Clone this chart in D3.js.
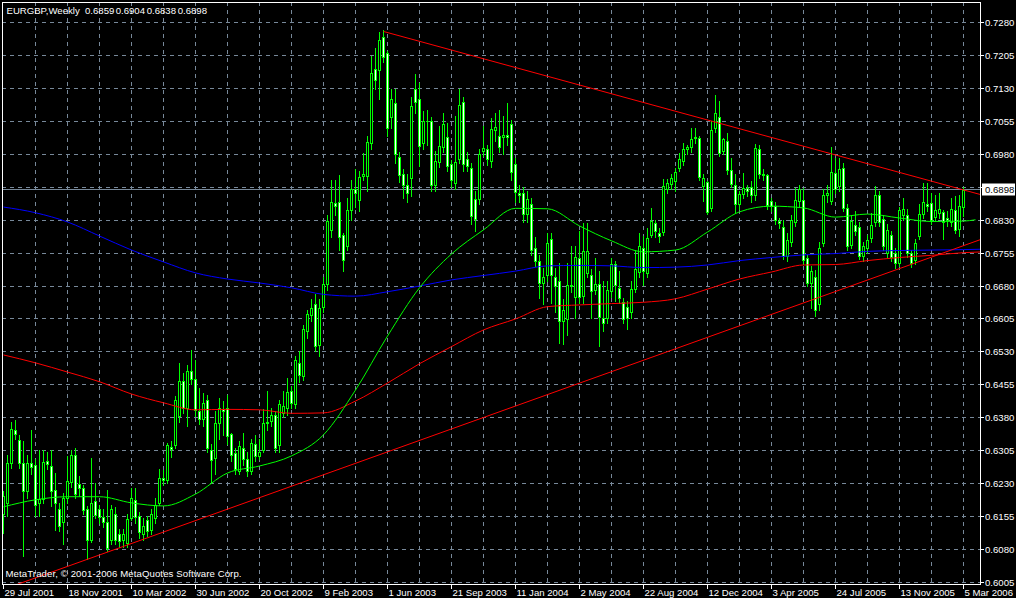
<!DOCTYPE html>
<html><head><meta charset="utf-8">
<script src="https://cdn.jsdelivr.net/npm/d3@7"></script>
<style>html,body{margin:0;padding:0;background:#000;}svg{display:block;}</style>
</head><body>
<svg id="chart" width="1016" height="598"></svg>
<script>
// ---------------- data ----------------
const symbolTitle = "EURGBP,Weekly";
const lastQuote = [0.6859, 0.6904, 0.6838, 0.6898]; // O H L C of last bar
const currentPrice = 0.6898;
const watermark = "MetaTrader, \u00A9 2001-2006 MetaQuotes Software Corp.";

const open = [
.6160,.6185,.6276,.6352,.6329,.6275,.6212,.6275,.6270,.6185,.6193,.6281,.6268,.6214,.6170,.6142,.6195,.6232,.6293,.6227,
.6218,.6170,.6100,.6188,.6170,.6152,.6141,.6100,.6160,.6113,.6100,.6094,.6150,.6191,.6155,.6113,.6145,.6122,.6150,.6185,
.6242,.6238,.6313,.6316,.6382,.6462,.6401,.6485,.6467,.6394,.6375,.6420,.6306,.6287,.6366,.6398,.6401,.6341,.6299,.6257,
.6310,.6284,.6257,.6320,.6292,.6306,.6370,.6371,.6386,.6316,.6390,.6401,.6439,.6409,.6504,.6473,.6576,.6614,.6637,.6545,
.6631,.6684,.6807,.6868,.6870,.6796,.6770,.6853,.6900,.6876,.6929,.6929,.7004,.7174,.7171,.7247,.7210,.7064,.7096,.6972,
.6933,.6910,.6925,.7127,.7105,.7004,.7056,.7054,.6910,.6961,.6996,.7019,.6956,.6914,.6969,.7098,.6969,.6948,.6877,.6877,
.6986,.6990,.6963,.7034,.7020,.7019,.7022,.7048,.6956,.6891,.6890,.6842,.6865,.6766,.6736,.6686,.6705,.6786,.6700,.6690,
.6600,.6603,.6682,.6653,.6743,.6656,.6709,.6705,.6669,.6684,.6606,.6606,.6667,.6728,.6675,.6643,.6631,.6620,.6673,.6711,
.6766,.6709,.6795,.6823,.6800,.6802,.6899,.6912,.6918,.6948,.6963,.6990,.6995,.7016,.7016,.6906,.6916,.6857,.7039,.7064,
.6986,.7009,.6944,.6909,.6865,.6889,.6903,.6904,.6886,.6992,.6934,.6931,.6872,.6861,.6828,.6813,.6747,.6779,.6824,.6872,
.6876,.6743,.6686,.6700,.6637,.6777,.6887,.6872,.6937,.6906,.6948,.6857,.6773,.6819,.6814,.6747,.6766,.6789,.6824,.6887,
.6832,.6755,.6796,.6755,.6732,.6840,.6840,.6755,.6739,.6794,.6842,.6865,.6868,.6837,.6846,.6847,.6834,.6824,.6851,.6808,
.6859];
const high = [
.6212,.6295,.6369,.6373,.6340,.6325,.6295,.6351,.6285,.6306,.6306,.6300,.6306,.6253,.6185,.6208,.6291,.6305,.6310,.6245,
.6225,.6178,.6287,.6230,.6180,.6170,.6215,.6180,.6175,.6125,.6125,.6160,.6219,.6219,.6165,.6150,.6155,.6170,.6195,.6262,
.6260,.6322,.6325,.6428,.6504,.6480,.6500,.6534,.6511,.6447,.6435,.6430,.6320,.6395,.6424,.6418,.6430,.6345,.6310,.6325,
.6345,.6300,.6330,.6340,.6330,.6398,.6440,.6400,.6395,.6420,.6440,.6470,.6450,.6520,.6530,.6590,.6625,.6650,.6660,.6650,
.6700,.6840,.6921,.6921,.6932,.6800,.6880,.6920,.6945,.6940,.6982,.7020,.7203,.7222,.7257,.7262,.7215,.7127,.7127,.6985,
.6945,.6935,.7110,.7161,.7142,.7077,.7081,.7065,.6986,.7043,.7073,.7050,.6965,.7066,.7127,.7110,.6985,.6960,.6895,.6990,
.7043,.7000,.7062,.7072,.7081,.7066,.7095,.7058,.6970,.6910,.6905,.6895,.6880,.6790,.6750,.6720,.6800,.6800,.6720,.6732,
.6650,.6732,.6770,.6771,.6804,.6823,.6823,.6717,.6743,.6713,.6690,.6690,.6743,.6736,.6713,.6652,.6644,.6690,.6762,.6800,
.6792,.6811,.6857,.6830,.6811,.6922,.6922,.6933,.6948,.6982,.7005,.7001,.7039,.7039,.7020,.6933,.6918,.7054,.7115,.7100,
.7016,.7028,.6971,.6933,.6895,.6937,.6910,.6918,.7003,.7001,.6945,.6933,.6880,.6870,.6835,.6830,.6800,.6840,.6903,.6910,
.6903,.6750,.6725,.6715,.6780,.6899,.6910,.6996,.6971,.6971,.6960,.6865,.6840,.6850,.6825,.6780,.6795,.6846,.6906,.6895,
.6840,.6820,.6805,.6765,.6860,.6880,.6855,.6760,.6785,.6865,.6914,.6914,.6891,.6887,.6891,.6853,.6850,.6880,.6883,.6887,
.6904];
const low = [
.6117,.6155,.6265,.6330,.6265,.6063,.6195,.6250,.6155,.6155,.6185,.6262,.6178,.6124,.6120,.6090,.6185,.6220,.6195,.6200,
.6160,.6056,.6095,.6150,.6140,.6130,.6075,.6090,.6090,.6085,.6085,.6085,.6145,.6140,.6105,.6100,.6110,.6115,.6140,.6180,
.6225,.6230,.6290,.6310,.6370,.6390,.6360,.6455,.6382,.6365,.6360,.6300,.6230,.6250,.6330,.6340,.6320,.6280,.6250,.6250,
.6270,.6245,.6250,.6280,.6285,.6300,.6350,.6360,.6300,.6300,.6380,.6385,.6400,.6400,.6460,.6465,.6560,.6600,.6530,.6520,
.6620,.6670,.6790,.6840,.6760,.6712,.6760,.6830,.6860,.6850,.6920,.6895,.6990,.7127,.7104,.7190,.7020,.7040,.6960,.6915,
.6880,.6870,.6885,.7073,.6952,.6990,.7000,.6895,.6895,.6950,.6985,.6940,.6905,.6900,.6960,.6940,.6940,.6820,.6804,.6865,
.6975,.6955,.6950,.7010,.6985,.6980,.7000,.6920,.6870,.6870,.6825,.6825,.6750,.6725,.6652,.6637,.6690,.6640,.6620,.6549,
.6546,.6568,.6665,.6606,.6640,.6640,.6700,.6606,.6660,.6542,.6576,.6595,.6655,.6644,.6640,.6595,.6580,.6605,.6665,.6700,
.6682,.6700,.6790,.6790,.6780,.6795,.6890,.6900,.6895,.6940,.6955,.6980,.6985,.7005,.6920,.6872,.6842,.6850,.7030,.6975,
.6980,.6935,.6905,.6846,.6855,.6880,.6885,.6870,.6875,.6925,.6920,.6855,.6850,.6820,.6810,.6740,.6736,.6770,.6815,.6860,
.6730,.6680,.6629,.6610,.6625,.6770,.6870,.6865,.6890,.6895,.6850,.6760,.6765,.6795,.6740,.6735,.6755,.6780,.6815,.6815,
.6760,.6745,.6735,.6720,.6725,.6830,.6745,.6722,.6730,.6785,.6835,.6850,.6820,.6830,.6835,.6785,.6815,.6815,.6800,.6794,
.6838];
const close = [
.6200,.6275,.6353,.6341,.6276,.6212,.6275,.6266,.6180,.6193,.6278,.6273,.6212,.6185,.6132,.6195,.6234,.6293,.6206,.6218,
.6168,.6100,.6185,.6158,.6152,.6141,.6082,.6170,.6100,.6098,.6113,.6147,.6196,.6152,.6118,.6133,.6120,.6160,.6181,.6242,
.6238,.6316,.6308,.6420,.6462,.6401,.6485,.6466,.6397,.6375,.6413,.6310,.6283,.6367,.6401,.6395,.6337,.6295,.6261,.6315,
.6284,.6257,.6321,.6291,.6300,.6367,.6367,.6386,.6310,.6409,.6405,.6437,.6413,.6511,.6477,.6581,.6616,.6629,.6542,.6629,
.6684,.6828,.6870,.6861,.6791,.6739,.6853,.6900,.6890,.6928,.6934,.7007,.7165,.7149,.7239,.7201,.7039,.7104,.6979,.6931,
.6910,.6890,.7090,.7098,.6997,.7056,.7054,.6909,.6963,.6999,.7047,.6952,.6920,.6961,.7092,.6956,.6953,.6838,.6832,.6980,
.6994,.6969,.7037,.7041,.6996,.7022,.7019,.6938,.6893,.6886,.6842,.6877,.6760,.6736,.6686,.6700,.6777,.6705,.6680,.6600,
.6625,.6682,.6679,.6745,.6653,.6758,.6758,.6667,.6684,.6608,.6595,.6669,.6728,.6682,.6652,.6603,.6606,.6673,.6717,.6770,
.6713,.6789,.6828,.6804,.6792,.6906,.6914,.6924,.6939,.6969,.6990,.6995,.7015,.7019,.6927,.6924,.6848,.7035,.7073,.6982,
.7013,.6944,.6912,.6866,.6889,.6903,.6896,.6886,.6994,.6933,.6931,.6863,.6861,.6830,.6823,.6747,.6783,.6829,.6876,.6900,
.6739,.6686,.6713,.6625,.6766,.6887,.6891,.6939,.6899,.6946,.6857,.6770,.6827,.6804,.6747,.6771,.6783,.6819,.6887,.6824,
.6770,.6806,.6745,.6732,.6851,.6855,.6755,.6732,.6777,.6844,.6871,.6861,.6830,.6853,.6855,.6824,.6830,.6855,.6806,.6862,
.6898];

const dateLabels = ["29 Jul 2001","18 Nov 2001","10 Mar 2002","30 Jun 2002","20 Oct 2002","9 Feb 2003",
  "1 Jun 2003","21 Sep 2003","11 Jan 2004","2 May 2004","22 Aug 2004","12 Dec 2004","3 Apr 2005",
  "24 Jul 2005","13 Nov 2005","5 Mar 2006"];
const priceTicks = [0.6005,0.6080,0.6155,0.6230,0.6305,0.6380,0.6455,0.6530,0.6605,0.6680,
  0.6755,0.6830,0.6905,0.6980,0.7055,0.7130,0.7205,0.7280];

// moving averages, sampled every 8 weeks (bar index), last point = line end
const greenMABars = [0,8,16,24,32,40,48,56,64,72,80,88,96,104,112,120,128,136,144,152,160,168,176,184,192,200,208,216,224,232,240,243];
const greenMA = [.6177,.6193,.6200,.6200,.6186,.6179,.6206,.6254,.6270,.6293,.6341,.6443,.6566,.6676,.6753,.6808,
  .6857,.6856,.6817,.6783,.6758,.6762,.6803,.6849,.6862,.6858,.6837,.6844,.6835,.6827,.6828,.6831];
const slowMABars = [0,8,16,24,32,40,48,56,64,72,80,88,96,104,112,120,128,136,144,152,160,168,176,184,192,200,208,216,224,232,240,245];
const redMA = [.6523,.6505,.6484,.6462,.6434,.6414,.6398,.6399,.6398,.6390,.6391,.6418,.6459,.6503,.6542,.6580,
  .6605,.6633,.6637,.6640,.6643,.6651,.6673,.6696,.6712,.6728,.6729,.6738,.6745,.6750,.6756,.6758];
const blueMA = [.6860,.6847,.6826,.6794,.6762,.6735,.6710,.6696,.6687,.6676,.6661,.6657,.6667,.6680,.6694,.6704,
  .6714,.6726,.6727,.6726,.6722,.6723,.6728,.6738,.6745,.6751,.6754,.6759,.6761,.6762,.6763,.6764];

// trend lines: two anchor points each (bar index, price), extended as rays to the right
const upperTrendBars = [95, 240];
const upperTrendPrices = [0.7260, 0.6899];
const lowerTrendBars = [0, 240];
const lowerTrendPrices = [0.5989, 0.6772];

// ---------------- drawing ----------------
const W = 1016, H = 598;
const plot = {left: 2, right: 980, top: 2, bottom: 584};
const svg = d3.select("#chart");
const FONT = "'Liberation Sans', Arial, sans-serif";
const FS = "9.6px";
const LIME = "#00ff00", GRID = "#778899";

svg.append("rect").attr("width", W).attr("height", H).attr("fill", "#000");

const x = d3.scaleLinear().domain([0, open.length - 1]).range([3, 963]);
const y = d3.scaleLinear().domain([0.6005, 0.7280]).range([582.3, 22.7]);
const py = v => Math.floor(y(v));

svg.append("clipPath").attr("id", "clip").append("rect")
  .attr("x", plot.left + 0.5).attr("y", plot.top + 0.5)
  .attr("width", plot.right - plot.left).attr("height", plot.bottom - plot.top);

const g = svg.append("g").attr("clip-path", "url(#clip)").attr("shape-rendering", "crispEdges");

// grid
g.selectAll("line.hg").data(priceTicks).join("line")
  .attr("x1", plot.left).attr("x2", plot.right)
  .attr("y1", d => py(d) + 0.5).attr("y2", d => py(d) + 0.5)
  .attr("stroke", GRID).attr("stroke-dasharray", "4,4");
const vBars = d3.range(8, open.length, 8);
g.selectAll("line.vg").data(vBars).join("line")
  .attr("x1", d => x(d) + 0.5).attr("x2", d => x(d) + 0.5)
  .attr("y1", plot.top).attr("y2", plot.bottom)
  .attr("stroke", GRID).attr("stroke-dasharray", "4,4");

// current price line
g.append("line").attr("x1", plot.left).attr("x2", plot.right)
  .attr("y1", py(currentPrice) - 0.5).attr("y2", py(currentPrice) - 0.5)
  .attr("stroke", GRID);

// candles
const idx = d3.range(open.length);
const cg = g.append("g");
cg.selectAll("rect.wick").data(idx).join("rect")
  .attr("x", i => x(i)).attr("width", 1)
  .attr("y", i => py(high[i])).attr("height", i => Math.max(1, py(low[i]) - py(high[i]) + 1))
  .attr("fill", LIME);
cg.selectAll("rect.body").data(idx).join("rect")
  .attr("x", i => x(i) - 1).attr("width", 3)
  .attr("y", i => py(Math.max(open[i], close[i])))
  .attr("height", i => Math.max(1, py(Math.min(open[i], close[i])) - py(Math.max(open[i], close[i])) + 1))
  .attr("fill", LIME);
cg.selectAll("rect.inner").data(idx.filter(i => py(Math.min(open[i], close[i])) - py(Math.max(open[i], close[i])) >= 2)).join("rect")
  .attr("x", i => x(i)).attr("width", 1)
  .attr("y", i => py(Math.max(open[i], close[i])) + 1)
  .attr("height", i => py(Math.min(open[i], close[i])) - py(Math.max(open[i], close[i])) - 1)
  .attr("fill", i => close[i] >= open[i] ? "#000" : "#fff");

// moving averages
const maLine = d3.line().x(d => x(d[0]) + 0.5).y(d => y(d[1])).curve(d3.curveMonotoneX);
const lg = svg.append("g").attr("clip-path", "url(#clip)");
lg.append("path").attr("d", maLine(d3.zip(slowMABars, blueMA))).attr("fill", "none").attr("stroke", "#0000ff").attr("stroke-width", 1);
lg.append("path").attr("d", maLine(d3.zip(slowMABars, redMA))).attr("fill", "none").attr("stroke", "#ff0000").attr("stroke-width", 1);
lg.append("path").attr("d", maLine(d3.zip(greenMABars, greenMA))).attr("fill", "none").attr("stroke", LIME).attr("stroke-width", 1);

// trend lines (rays)
function ray(bars, prices) {
  const slope = (prices[1] - prices[0]) / (bars[1] - bars[0]);
  const endBar = 246;
  return [[bars[0], prices[0]], [endBar, prices[0] + slope * (endBar - bars[0])]];
}
const tl = d3.line().x(d => x(d[0]) + 0.5).y(d => y(d[1]));
lg.append("path").attr("d", tl(ray(upperTrendBars, upperTrendPrices))).attr("fill", "none").attr("stroke", "#ff0000").attr("stroke-width", 1);
lg.append("path").attr("d", tl(ray(lowerTrendBars, lowerTrendPrices))).attr("fill", "none").attr("stroke", "#ff0000").attr("stroke-width", 1);

// frame
svg.append("rect").attr("x", plot.left + 0.5).attr("y", plot.top + 0.5)
  .attr("width", plot.right - plot.left).attr("height", plot.bottom - plot.top)
  .attr("fill", "none").attr("stroke", "#fff").attr("shape-rendering", "crispEdges");

// right price axis
const fmt = d3.format(".4f");
const ax = svg.append("g").attr("shape-rendering", "crispEdges");
ax.selectAll("line.pt").data(priceTicks).join("line")
  .attr("x1", plot.right).attr("x2", plot.right + 4)
  .attr("y1", d => py(d) + 0.5).attr("y2", d => py(d) + 0.5).attr("stroke", "#fff");
svg.selectAll("text.pl").data(priceTicks).join("text")
  .attr("x", 985).attr("y", d => py(d) + 0.5).attr("dy", "0.36em")
  .attr("fill", "#fff").attr("font-family", FONT).attr("font-size", FS)
  .text(d => fmt(d));

// current price tag
const cpY = py(currentPrice) - 0.5;
svg.append("rect").attr("x", 982).attr("y", cpY - 6).attr("width", 33).attr("height", 12).attr("fill", "#fff");
svg.append("text").attr("x", 985).attr("y", cpY).attr("dy", "0.36em")
  .attr("fill", "#000").attr("font-family", FONT).attr("font-size", FS).text(fmt(currentPrice));

// bottom date axis
const parse = d3.timeParse("%d %b %Y");
const t0 = parse(dateLabels[0]);
const labelBar = s => Math.round((parse(s) - t0) / (7 * 864e5));
ax.selectAll("line.dt").data(dateLabels).join("line")
  .attr("x1", d => x(labelBar(d)) + 0.5).attr("x2", d => x(labelBar(d)) + 0.5)
  .attr("y1", plot.bottom).attr("y2", plot.bottom + 5).attr("stroke", "#fff");
svg.selectAll("text.dl").data(dateLabels).join("text")
  .attr("x", d => x(labelBar(d)) + 1.5).attr("y", 596)
  .attr("fill", "#fff").attr("font-family", FONT).attr("font-size", FS)
  .text(d => d);

// title
const title = svg.append("text").attr("y", 14).attr("fill", "#fff")
  .attr("font-family", FONT).attr("font-size", FS);
title.append("tspan").attr("x", 6.5).text(symbolTitle);
const quoteX = [85, 115.7, 146.7, 177.7];
lastQuote.forEach((q, k) => title.append("tspan").attr("x", quoteX[k]).text(fmt(q)));

// watermark
svg.append("text").attr("x", 5.5).attr("y", 577).attr("fill", "#fff")
  .attr("font-family", FONT).attr("font-size", FS).attr("textLength", 236).attr("lengthAdjust", "spacing").text(watermark);
</script>
</body></html>
